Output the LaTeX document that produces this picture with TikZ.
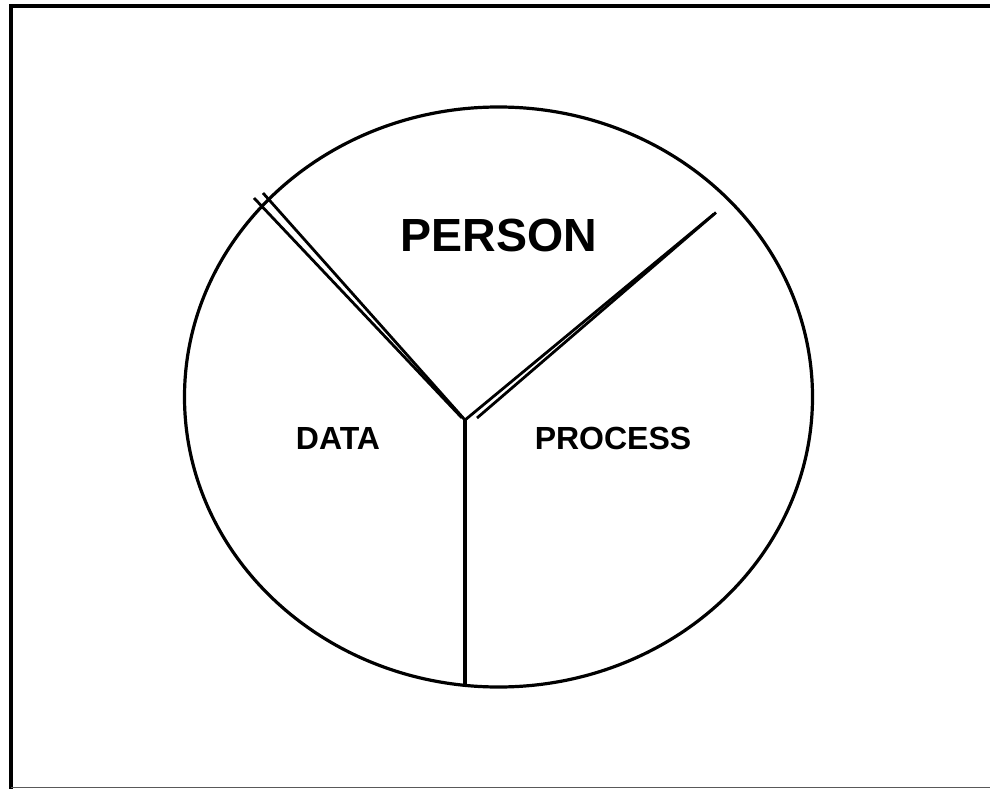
\documentclass[tikz,border=0pt]{standalone}
\usepackage{fontspec}
\setmainfont{Liberation Sans}
\begin{document}
\begin{tikzpicture}[x=1pt,y=-1pt,
  frameline/.style={line width=4pt},
  divider/.style={line width=3.2pt},
  thinline/.style={line width=2.8pt},
  lbl/.style={font=\bfseries\fontsize{32}{36}\selectfont, inner sep=0pt},
  biglbl/.style={font=\bfseries\fontsize{46.5}{50}\selectfont, inner sep=0pt}]
\useasboundingbox (0,0) rectangle (990,789);
% frame
\draw[frameline] (11,789) -- (11,6) -- (990,6);
\draw[gray!70!black, line width=1pt] (11,787.5) -- (990,787.5);
% circle
\draw[line width=3.2pt] (498.5,397) ellipse [x radius=314, y radius=290];
% points
\coordinate (c) at (465,420);
\coordinate (bot) at (465,685);
\coordinate (ul1) at (254,198);
\coordinate (ul2) at (263,193);
\coordinate (c2) at (462,418);
\coordinate (ur1) at (714,214);
\coordinate (ur2) at (716,212.5);
\coordinate (c3) at (477,418);
% dividers
\draw[divider] (c) -- (bot);
\draw[thinline] (c) -- (ul2);
\draw[thinline] (c2) -- (ul1);
\draw[thinline] (c) -- (ur1);
\draw[thinline] (c3) -- (ur2);
% labels
\node[biglbl] (person) at (499,235) {PERSON};
\node[lbl] (data) at (338,438) {DATA};
\node[lbl] (process) at (613,438) {PROCESS};
\end{tikzpicture}
\end{document}
